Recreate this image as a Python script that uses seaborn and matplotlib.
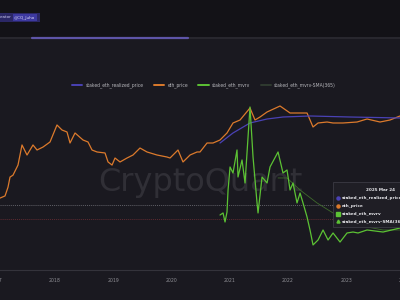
import matplotlib
matplotlib.use("Agg")
import matplotlib.pyplot as plt
import pandas as pd
import seaborn as sns
from matplotlib.patches import Rectangle
from matplotlib.lines import Line2D

# ---------------- data ----------------
price_years = [2017.055, 2017.141, 2017.192, 2017.227, 2017.278, 2017.347, 2017.364,
               2017.433, 2017.519, 2017.622, 2017.691, 2017.794, 2017.914, 2018.034,
               2018.120, 2018.206, 2018.258, 2018.344, 2018.481, 2018.567, 2018.636,
               2018.722, 2018.859, 2018.911, 2018.980, 2019.031, 2019.117, 2019.237,
               2019.340, 2019.460, 2019.581, 2019.753, 2019.924, 2019.976, 2020.113,
               2020.199, 2020.320, 2020.440, 2020.491, 2020.612, 2020.715, 2020.835,
               2020.955, 2021.058, 2021.179, 2021.350, 2021.436, 2021.522, 2021.643,
               2021.866, 2022.038, 2022.210, 2022.330, 2022.433, 2022.519, 2022.674,
               2022.777, 2022.948, 2023.189, 2023.361, 2023.584, 2023.756, 2023.927]
price_usd = [7.9, 9.2, 17, 35, 40, 71, 82,
             340, 167, 340, 238, 294, 420, 1400,
             982, 853, 391, 795, 484, 420, 238,
             207, 193, 102, 82, 135, 102, 135,
             167, 274, 207, 167, 145, 135, 238,
             102, 167, 207, 207, 391, 391, 484,
             795, 1614, 1995, 4670, 1995, 2466, 3516,
             5380, 3275, 3275, 3275, 1216, 1614, 1730,
             1614, 1614, 1730, 2141, 1730, 1995, 2650]

realized_years = [2020.835, 2021.058, 2021.350, 2021.643, 2021.917, 2022.381, 2023.069, 2023.927]
realized_usd = [391, 795, 1614, 2141, 2466, 2650, 2466, 2300]

mvrv_years = [2020.835, 2020.887, 2020.921, 2020.955, 2020.973, 2021.007, 2021.058, 2021.127,
              2021.144, 2021.213, 2021.265, 2021.350, 2021.402, 2021.471, 2021.488, 2021.557,
              2021.643, 2021.694, 2021.832, 2021.917, 2021.986, 2022.038, 2022.089, 2022.158,
              2022.210, 2022.261, 2022.330, 2022.381, 2022.433, 2022.519, 2022.605, 2022.691,
              2022.777, 2022.897, 2023.017, 2023.120, 2023.206, 2023.361, 2023.636, 2023.927]
mvrv_vals = [0.857, 0.886, 0.757, 0.900, 1.214, 1.543, 1.457, 1.786,
             1.400, 1.643, 1.314, 2.400, 1.686, 1.029, 0.886, 1.400,
             1.314, 1.543, 1.757, 1.457, 1.500, 1.214, 1.314, 1.029,
             1.171, 1.029, 0.829, 0.643, 0.429, 0.500, 0.643, 0.500,
             0.600, 0.471, 0.600, 0.614, 0.600, 0.643, 0.614, 0.671]

sma_years = [2021.832, 2021.986, 2022.210, 2022.502, 2022.777, 2023.120, 2023.361, 2023.636, 2023.927]
sma_vals = [1.386, 1.386, 1.214, 1.029, 0.886, 0.743, 0.686, 0.643, 0.643]

ref_levels = [1.0, 0.8]
year_ticks = [2017, 2018, 2019, 2020, 2021, 2022, 2023, 2024]
series_names = ["staked_eth_realized_price", "eth_price", "staked_eth_mvrv",
                "staked_eth_mvrv-SMA(365)"]
tooltip_title = "2025 Mar 24"
watermark = "CryptoQuant"
credit_prefix = "eator "
credit_handle = "@CQ_Juho"

# ---------------- style ----------------
BG = "#1a1920"
TOP = "#131217"
C_BLUE = "#4a42b5"
C_ORANGE = "#dc7a2c"
C_GREEN = "#5cc234"
C_SMA = "#3f6a2c"
TXT = "#8f8f95"

sns.set_theme(style="dark")
plt.rcParams.update({
    "font.family": ["DejaVu Sans"],
    "axes.facecolor": "none",
    "figure.facecolor": BG,
})

W, H = 400, 300
fx = lambda px: px / W
fy = lambda py: 1 - py / H

fig = plt.figure(figsize=(4, 3), dpi=100, facecolor=BG)

# top strip and divider
fig.patches.append(Rectangle((0, fy(37)), 1, 37 / H, transform=fig.transFigure,
                             facecolor=TOP, edgecolor="none", zorder=-3))
fig.add_artist(Line2D([0, 1], [fy(37.5), fy(37.5)], color="#2c2b32", lw=1.2, zorder=-2))
fig.add_artist(Line2D([fx(32), fx(188)], [fy(37.5), fy(37.5)], color="#5e55a8", lw=1.6, zorder=-1))

# credit badge
fig.patches.append(Rectangle((0, fy(22)), fx(40), 9 / H, transform=fig.transFigure,
                             facecolor="#2b2766", edgecolor="none", zorder=1))
fig.patches.append(Rectangle((fx(12.5), fy(21)), fx(24), 7 / H, transform=fig.transFigure,
                             facecolor="#3d39a0", edgecolor="none", zorder=1))
fig.text(fx(0), fy(17.5), credit_prefix, fontsize=3.0, color="#c9c6ef", va="center", ha="left", zorder=2)
fig.text(fx(13.5), fy(17.5), credit_handle, fontsize=3.0, color="#dcdaf7", va="center", ha="left", zorder=2)

# watermark
fig.text(fx(200), fy(182), watermark, fontsize=23, color="#302f36", ha="center", va="center",
         zorder=-1)

# main axes
ax = fig.add_axes([fx(-10), fy(270), 420 / W, (270 - 95) / H])
ax.set_facecolor("none")
ax.set_yscale("log")

df_price = pd.DataFrame({"year": price_years, "value": price_usd})
df_real = pd.DataFrame({"year": realized_years, "value": realized_usd})
sns.lineplot(data=df_price, x="year", y="value", ax=ax, color=C_ORANGE, lw=0.9, zorder=3)
sns.lineplot(data=df_real, x="year", y="value", ax=ax, color=C_BLUE, lw=0.9, zorder=4)
ax.set_ylim(10 ** -1.315, 10 ** 4.069)
ax.set_xlim(2016.883, 2024.099)

ax2 = ax.twinx()
ax2.set_facecolor("none")
df_mvrv = pd.DataFrame({"year": mvrv_years, "value": mvrv_vals})
df_sma = pd.DataFrame({"year": sma_years, "value": sma_vals})
sns.lineplot(data=df_mvrv, x="year", y="value", ax=ax2, color=C_GREEN, lw=0.9, zorder=3)
sns.lineplot(data=df_sma, x="year", y="value", ax=ax2, color=C_SMA, lw=0.6, zorder=2)
ax2.axhline(ref_levels[0], color="#5f5f66", lw=0.7, ls=(0, (1, 1)), zorder=1)
ax2.axhline(ref_levels[1], color="#5e2a31", lw=0.7, ls=(0, (1, 1)), zorder=1)
ax2.set_ylim(0.0714, 2.571)
ax2.set_xlim(2016.883, 2024.099)

for a in (ax, ax2):
    a.set_xlabel("")
    a.set_ylabel("")
    a.grid(False)
    for s in a.spines.values():
        s.set_visible(False)
    a.set_yticks([])
    a.minorticks_off()
    a.tick_params(axis="y", which="both", length=0, labelleft=False, labelright=False)

ax.set_xticks(year_ticks)
ax.set_xticklabels([str(y) for y in year_ticks])
ax.tick_params(axis="x", length=0, pad=6, labelsize=3.3, labelcolor=TXT)
ax2.tick_params(axis="x", length=0, labelbottom=False)
ax.spines["bottom"].set_visible(True)
ax.spines["bottom"].set_color("#34333b")
ax.spines["bottom"].set_linewidth(0.8)

# legend
handles = [Line2D([], [], color=C_BLUE, lw=1.4), Line2D([], [], color=C_ORANGE, lw=1.4),
           Line2D([], [], color=C_GREEN, lw=1.4), Line2D([], [], color="#2f3a30", lw=1.4)]
fig.legend(handles, series_names, loc="center left", bbox_to_anchor=(fx(72), fy(85)),
           ncol=4, frameon=False, fontsize=3.25, handlelength=2.3, handletextpad=0.7,
           columnspacing=2.3, labelcolor="#b8b8bd", borderaxespad=0, borderpad=0)

# tooltip
fig.patches.append(Rectangle((fx(333), fy(227)), fx(75), 45 / H, transform=fig.transFigure,
                             facecolor="#1f1e25", edgecolor="#3c3b44", lw=0.6, zorder=5))
fig.text(fx(366), fy(190), tooltip_title, fontsize=3.0, color="#e8e8ec", fontweight="bold",
         ha="left", va="center", zorder=6)
tip_markers = [("o", C_BLUE), ("o", C_ORANGE), ("s", C_GREEN), ("^", C_GREEN)]
tip_y = [198, 206, 213.5, 221]
for (m, c), yy, name in zip(tip_markers, tip_y, series_names):
    fig.add_artist(Line2D([fx(338)], [fy(yy)], marker=m, color=c, markersize=2.2, lw=0, zorder=6))
    fig.text(fx(342), fy(yy), name, fontsize=3.0, color="#e6e6ea", fontweight="bold",
             ha="left", va="center", zorder=6)

fig.savefig("out.png", dpi=100, facecolor=BG)
